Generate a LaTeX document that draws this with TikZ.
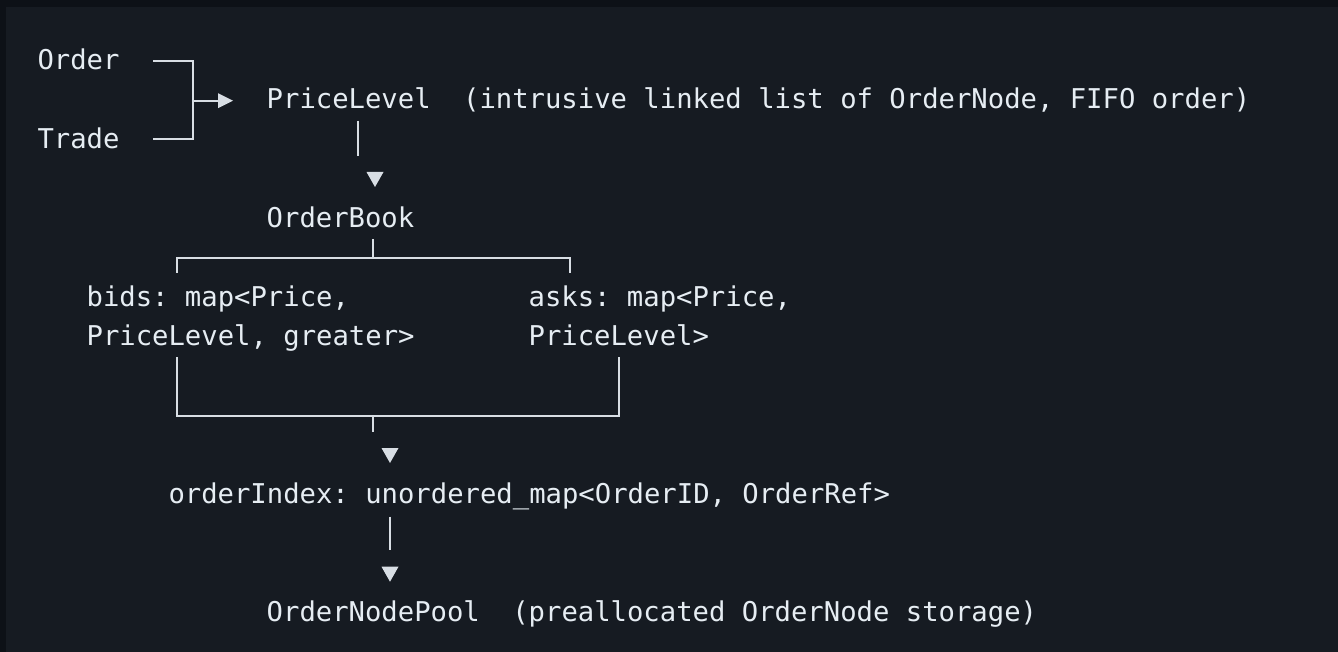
\documentclass[tikz,border=0pt]{standalone}
\usepackage{fontspec}
\setmonofont{DejaVu Sans Mono}
\definecolor{outerbg}{HTML}{0D1117}
\definecolor{innerbg}{HTML}{161B22}
\definecolor{txt}{HTML}{E6EDF3}
\definecolor{ln}{HTML}{D8DEE4}
\begin{document}
\begin{tikzpicture}[x=1pt,y=-1pt,
  lbl/.style={inner sep=0pt,outer sep=0pt,anchor=base west,text=txt,font=\ttfamily\fontsize{27.24}{30}\selectfont},
  wire/.style={draw=ln,line width=1.7pt},
]
% background
\fill[outerbg] (0,0) rectangle (1338,652);
\fill[innerbg] (6,7) rectangle (1338,652);
\useasboundingbox (0,0) rectangle (1338,652);

% text nodes (col -> x = 37.5 + 16.37*col; row -> baseline = 69.5 + 39.43*row)
\node[lbl] (order) at (37.5,69.5) {Order};
\node[lbl] (trade) at (37.5,148.4) {Trade};
\node[lbl] (pricelevel) at (266.7,108.9) {PriceLevel};
\node[lbl] (plnote) at (463.1,108.9) {(intrusive linked list of OrderNode, FIFO order)};
\node[lbl] (orderbook) at (266.7,227.2) {OrderBook};
\node[lbl] (bids1) at (86.6,306.1) {bids: map<Price,};
\node[lbl] (bids2) at (86.6,345.5) {PriceLevel, greater>};
\node[lbl] (asks1) at (528.6,306.1) {asks: map<Price,};
\node[lbl] (asks2) at (528.6,345.5) {PriceLevel>};
\node[lbl] (orderindex) at (168.5,503.2) {orderIndex: unordered\_map<OrderID, OrderRef>};
\node[lbl] (pool) at (266.7,621.5) {OrderNodePool};
\node[lbl] (poolnote) at (512.3,621.5) {(preallocated OrderNode storage)};

% junction coordinates
\coordinate (oe) at (153,60.7);
\coordinate (oc) at (193,60.7);
\coordinate (te) at (153,139);
\coordinate (tc) at (193,139);
\coordinate (mj) at (193,100.7);
\coordinate (ma) at (218,100.7);
\coordinate (pl1) at (357.7,120.7);
\coordinate (pl2) at (357.7,156);
\coordinate (ob1) at (373.3,239);
\coordinate (ob2) at (373.3,258.3);
\coordinate (tl) at (176.7,258.3);
\coordinate (tr) at (570,258.3);
\coordinate (tld) at (176.7,273);
\coordinate (trd) at (570,273);
\coordinate (bl1) at (176.7,357);
\coordinate (br1) at (619.3,357);
\coordinate (bl) at (176.7,415.7);
\coordinate (br) at (619.3,415.7);
\coordinate (bm) at (373.3,415.7);
\coordinate (bm2) at (373.3,431.7);
\coordinate (oi1) at (390,516.7);
\coordinate (oi2) at (390,550);

% connectors
\draw[wire] (oe) -- (oc) -- (tc) -- (te);
\draw[wire] (mj) -- (ma);
\fill[ln] (218,93.2) -- (233,100.7) -- (218,108.2) -- cycle;
\draw[wire] (pl1) -- (pl2);
\fill[ln] (366.5,172) -- (383.5,172) -- (375,187) -- cycle;
\draw[wire] (ob1) -- (ob2);
\draw[wire] (tld) -- (tl) -- (tr) -- (trd);
\draw[wire] (bl1) -- (bl) -- (br) -- (br1);
\draw[wire] (bm) -- (bm2);
\fill[ln] (381.5,448) -- (398.5,448) -- (390,463) -- cycle;
\draw[wire] (oi1) -- (oi2);
\fill[ln] (381.5,566.7) -- (398.5,566.7) -- (390,581.7) -- cycle;
\end{tikzpicture}
\end{document}
